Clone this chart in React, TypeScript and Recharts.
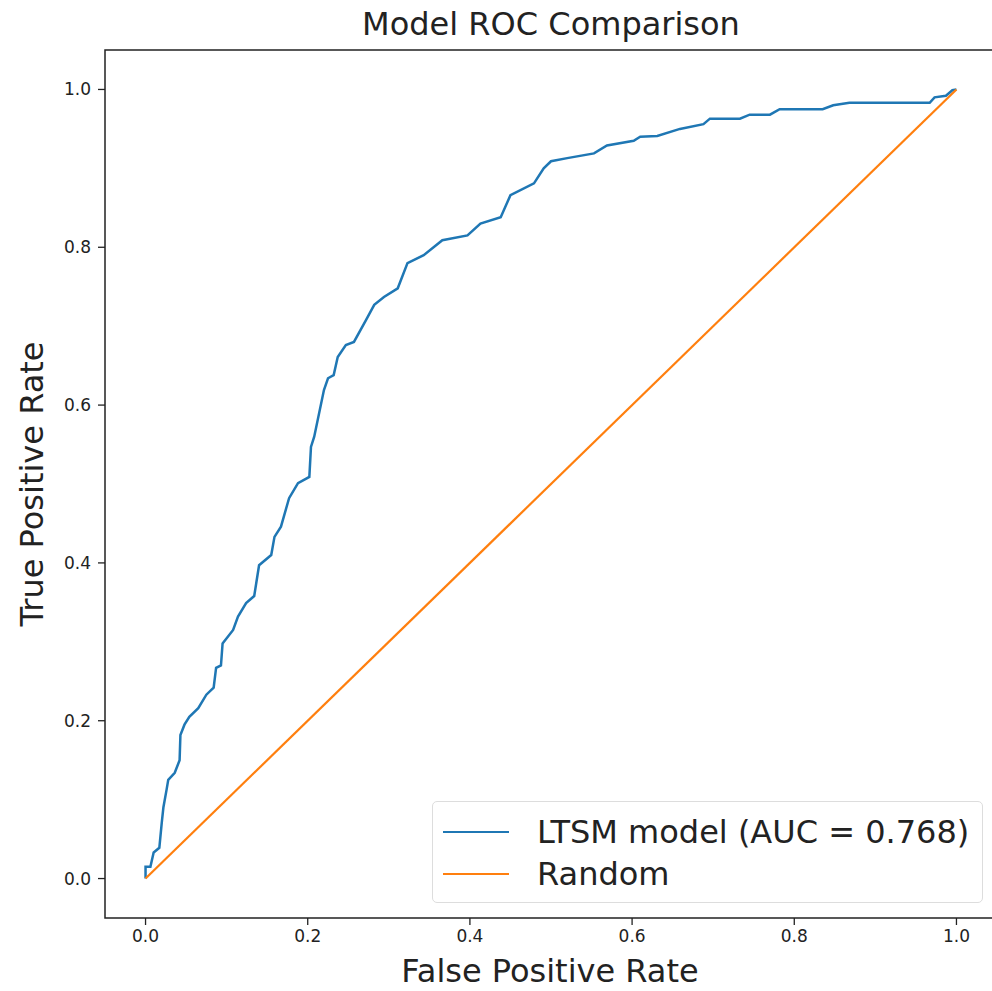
import { LineChart, Line, XAxis, YAxis, ReferenceArea } from 'recharts';

// ROC curve for the LTSM model, read as (fpr, tpr) pairs
const fpr = [
  0, 0, 0.006, 0.01, 0.017, 0.02, 0.022, 0.026, 0.028, 0.036, 0.042, 0.043, 0.048, 0.054,
  0.065, 0.075, 0.084, 0.087, 0.093, 0.095, 0.108, 0.114, 0.124, 0.134, 0.14, 0.155, 0.159,
  0.167, 0.177, 0.188, 0.202, 0.204, 0.208, 0.22, 0.225, 0.232, 0.237, 0.247, 0.257, 0.272,
  0.282, 0.294, 0.311, 0.323, 0.343, 0.366, 0.397, 0.413, 0.438, 0.45, 0.479, 0.491, 0.5,
  0.52, 0.553, 0.569, 0.602, 0.61, 0.631, 0.659, 0.688, 0.696, 0.733, 0.745, 0.77, 0.782,
  0.835, 0.848, 0.868, 0.967, 0.973, 0.987, 0.995, 1,
];
const tpr = [
  0, 0.015, 0.015, 0.033, 0.039, 0.071, 0.09, 0.113, 0.125, 0.134, 0.15, 0.182, 0.195, 0.205,
  0.216, 0.233, 0.242, 0.267, 0.27, 0.298, 0.315, 0.332, 0.349, 0.358, 0.397, 0.41, 0.433,
  0.446, 0.482, 0.501, 0.509, 0.547, 0.56, 0.619, 0.634, 0.638, 0.661, 0.676, 0.68, 0.708,
  0.727, 0.737, 0.748, 0.78, 0.79, 0.809, 0.815, 0.83, 0.838, 0.866, 0.881, 0.9, 0.909,
  0.913, 0.919, 0.929, 0.935, 0.94, 0.941, 0.95, 0.956, 0.963, 0.963, 0.968, 0.968, 0.975,
  0.975, 0.98, 0.983, 0.983, 0.99, 0.992, 0.999, 1,
];

// chance diagonal
const randomFpr = [0, 1];
const randomTpr = [0, 1];

const ticks = [0, 0.2, 0.4, 0.6, 0.8, 1.0];
const modelLabel = 'LTSM model (AUC = 0.768)';
const randomLabel = 'Random';

const rocData = fpr.map((x, i) => ({ fpr: x, tpr: tpr[i] }));
const randomData = randomFpr.map((x, i) => ({ fpr: x, tpr: randomTpr[i] }));

const BLUE = '#1f77b4';
const ORANGE = '#ff7f0e';
const INK = '#222';
const FONT = '"DejaVu Sans", sans-serif';

export default function App() {
  return (
    <div
      style={{
        position: 'absolute',
        left: 0,
        top: 0,
        width: 992,
        height: 991,
        overflow: 'hidden',
        background: '#fff',
        fontFamily: FONT,
      }}
    >
      <div
        style={{
          position: 'absolute',
          top: 5,
          left: 0,
          width: 1102,
          textAlign: 'center',
          fontSize: 32,
          color: INK,
        }}
      >
        Model ROC Comparison
      </div>

      <LineChart
        width={1000}
        height={991}
        data={rocData}
        margin={{ top: 50, right: 3, bottom: 0, left: 0 }}
      >
        <XAxis
          dataKey="fpr"
          type="number"
          domain={[-0.05, 1.05]}
          ticks={ticks}
          interval={0}
          tickFormatter={(v: number) => v.toFixed(1)}
          allowDataOverflow
          height={73}
          axisLine={false}
          tickSize={7}
          tickMargin={5}
          tickLine={{ stroke: INK, strokeWidth: 1.3 }}
          tick={{ fontSize: 17, fill: INK, fontFamily: FONT }}
        />
        <YAxis
          dataKey="tpr"
          type="number"
          domain={[-0.05, 1.05]}
          ticks={ticks}
          interval={0}
          tickFormatter={(v: number) => v.toFixed(1)}
          allowDataOverflow
          width={105}
          axisLine={false}
          tickSize={7}
          tickMargin={7}
          tickLine={{ stroke: INK, strokeWidth: 1.3 }}
          tick={{ fontSize: 17, fill: INK, fontFamily: FONT }}
        />
        <Line
          type="linear"
          dataKey="tpr"
          stroke={BLUE}
          strokeWidth={2.5}
          dot={false}
          isAnimationActive={false}
        />
        <Line
          type="linear"
          data={randomData}
          dataKey="tpr"
          stroke={ORANGE}
          strokeWidth={2.2}
          dot={false}
          isAnimationActive={false}
        />
        {/* box frame around the plot area */}
        <ReferenceArea
          x1={-0.05}
          x2={1.05}
          y1={-0.05}
          y2={1.05}
          fill="none"
          stroke={INK}
          strokeWidth={1.5}
          ifOverflow="visible"
        />
      </LineChart>

      <div
        style={{
          position: 'absolute',
          left: 550,
          top: 971,
          fontSize: 32,
          color: INK,
          whiteSpace: 'nowrap',
          transform: 'translate(-50%, -50%)',
        }}
      >
        False Positive Rate
      </div>
      <div
        style={{
          position: 'absolute',
          left: 32,
          top: 484,
          fontSize: 32,
          color: INK,
          whiteSpace: 'nowrap',
          transform: 'translate(-50%, -50%) rotate(-90deg)',
        }}
      >
        True Positive Rate
      </div>

      {/* legend, lower right */}
      <div
        style={{
          position: 'absolute',
          left: 432,
          top: 801,
          width: 551,
          height: 102,
          border: '1.5px solid #ddd',
          borderRadius: 5,
          background: 'rgba(255,255,255,0.8)',
          boxSizing: 'border-box',
          color: INK,
          fontSize: 32,
        }}
      >
        {[
          { label: modelLabel, color: BLUE },
          { label: randomLabel, color: ORANGE },
        ].map((item, i) => (
          <div
            key={item.label}
            style={{
              position: 'absolute',
              left: 10,
              top: 11 + i * 42,
              height: 38,
              display: 'flex',
              alignItems: 'center',
              whiteSpace: 'nowrap',
            }}
          >
            <div style={{ width: 66, height: 2.5, background: item.color, marginRight: 28 }} />
            <span>{item.label}</span>
          </div>
        ))}
      </div>
    </div>
  );
}
